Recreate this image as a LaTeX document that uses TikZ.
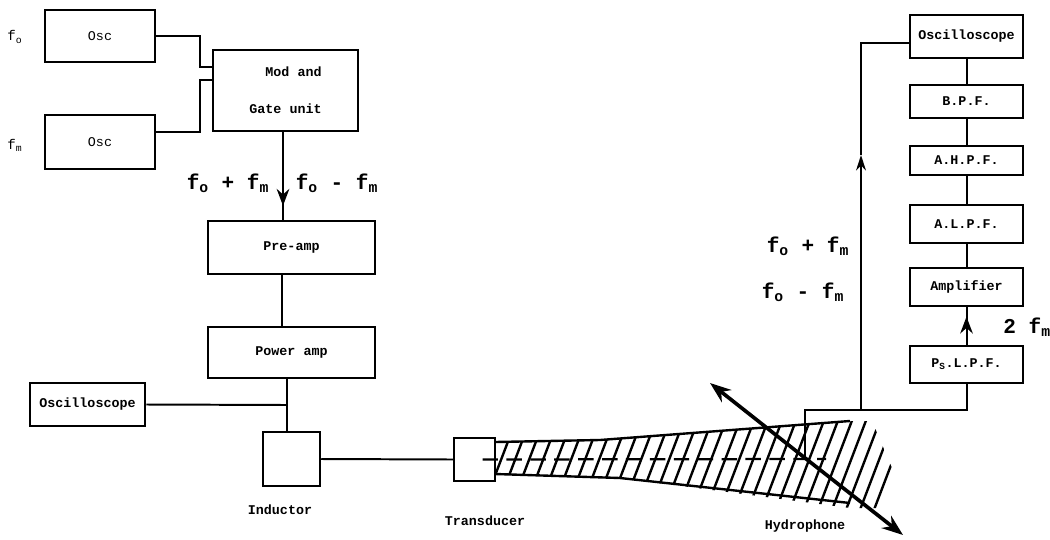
\documentclass[tikz,border=0pt]{standalone}
\usepackage{fontspec}
\setmonofont{Liberation Mono}
\usetikzlibrary{arrows.meta}
\usetikzlibrary{decorations.markings}

\begin{document}
\begin{tikzpicture}[
        x = 0.025cm,
        y = -0.025cm,
        blk/.style = {
            draw,
            line width = 1.9pt,
            font = \ttfamily\bfseries\fontsize{9.5}{11}\selectfont,
            inner sep = 0pt
        },
        wire/.style = {line width = 1.4pt},
        hatch/.style = {line width = 1.7pt},
        lbl/.style = {font = \ttfamily\bfseries\fontsize{9.5}{11}\selectfont},
        freq/.style = {font = \ttfamily\bfseries\fontsize{15}{17}\selectfont},
        midtip/.style = {
            postaction = {decorate},
            decoration = {markings,
                mark = at position #1 with {\arrow{Stealth[length=12pt, width=9pt, inset=4pt]}}}
        }
    ]
    \useasboundingbox (0,0) rectangle (1050,539);
    % oscillators and modulator
    \node[blk, minimum width=2.75cm, minimum height=1.3cm,
          font=\ttfamily\fontsize{9.5}{11}\selectfont] (oscA) at (100,36) {Osc};
    \node[blk, minimum width=2.75cm, minimum height=1.35cm,
          font=\ttfamily\fontsize{9.5}{11}\selectfont] (oscB) at (100,142) {Osc};
    \node[font=\ttfamily\fontsize{10}{11}\selectfont] (fo) at (15,37) {f\textsubscript{o}};
    \node[font=\ttfamily\fontsize{10}{11}\selectfont] (fm) at (15,145) {f\textsubscript{m}};
    \node[blk, minimum width=3.62cm, minimum height=2.02cm, align=right] (modgate) at (285.5,90.5)
        {Mod and\\[15pt]Gate unit};
    % transmit chain
    \node[blk, minimum width=4.17cm, minimum height=1.32cm] (preamp) at (291.5,247.5) {Pre-amp};
    \node[blk, minimum width=4.17cm, minimum height=1.27cm] (poweramp) at (291.5,352.5) {Power amp};
    \node[blk, minimum width=2.87cm, minimum height=1.07cm] (scopeL) at (87.5,404.5) {Oscilloscope};
    \node[blk, minimum width=1.42cm, minimum height=1.35cm] (inductor) at (291.5,459) {};
    \node[blk, minimum width=1.02cm, minimum height=1.07cm] (transducer) at (474.5,459.5) {};
    \node[lbl] (indlbl) at (280,510) {Inductor};
    \node[lbl] (trlbl) at (485,521) {Transducer};
    \node[lbl] (hydlbl) at (805,526) {Hydrophone};
    % receive chain
    \node[blk, minimum width=2.82cm, minimum height=1.07cm] (scopeR) at (966.5,36.5) {Oscilloscope};
    \node[blk, minimum width=2.82cm, minimum height=0.82cm] (bpf) at (966.5,101.5) {B.P.F.};
    \node[blk, minimum width=2.82cm, minimum height=0.72cm] (ahpf) at (966.5,160.5) {A.H.P.F.};
    \node[blk, minimum width=2.82cm, minimum height=0.95cm] (alpf) at (966.5,224) {A.L.P.F.};
    \node[blk, minimum width=2.82cm, minimum height=0.95cm] (amp) at (966.5,287) {Amplifier};
    \node[blk, minimum width=2.82cm, minimum height=0.92cm] (pslpf) at (966.5,364.5) {P\textsubscript{S}.L.P.F.};
    % frequency labels
    \node[freq] (sumL) at (228,183) {f\textsubscript{o} + f\textsubscript{m}};
    \node[freq] (difL) at (337,183) {f\textsubscript{o} - f\textsubscript{m}};
    \node[freq] (sumR) at (808,246) {f\textsubscript{o} + f\textsubscript{m}};
    \node[freq] (difR) at (803,292) {f\textsubscript{o} - f\textsubscript{m}};
    \node[freq, anchor=west, inner sep=0pt] (twofm) at (1003,327) {2 f\textsubscript{m}};
    % junction points
    \coordinate (jn) at (287,405);
    \coordinate (hyd) at (805,458);
    \coordinate (hydtop) at (805,410);
    \coordinate (tap) at (861,410);
    \coordinate (uparr) at (861,155);
    %
    \draw[wire] (oscA.east) -| (200,67) -- (modgate.west |- 0,67);
    \draw[wire] ([yshift=7pt]oscB.east) -| (200,80) -- (modgate.west |- 0,80);
    \draw[wire, midtip=0.84] (modgate.south -| 283,0) -- (preamp.north -| 283,0);
    \draw[wire] (preamp.south -| 282,0) -- (poweramp.north -| 282,0);
    \draw[wire] (poweramp.south -| jn) -- (inductor.north -| jn);
    \draw[wire] (scopeL.east) -- (jn);
    \draw[wire] (inductor.east) -- (transducer.west);
    %
    \draw[wire] (hyd) -- (hydtop) -| (pslpf.south);
    \draw[wire, -{Stealth[length=11pt, width=7pt]}] (tap) -- (uparr);
    \draw[wire] (uparr) |- ([yshift=-4.5pt]scopeR.west);
    \draw[wire, midtip=0.75] (pslpf.north) -- (amp.south);
    \draw[wire] (amp.north) -- (alpf.south);
    \draw[wire] (alpf.north) -- (ahpf.south);
    \draw[wire] (ahpf.north) -- (bpf.south);
    \draw[wire] (bpf.north) -- (scopeR.south);
    % sound beam
    \draw[hatch] (495,442) -- (600,440) -- (850,421);
    \draw[hatch] (495,474) -- (620,478) -- (850,503);
    \begin{scope}
        \clip (495,442) -- (600,440) -- (850,421) -- (872,421) -- (895,475)
              -- (886,508) -- (850,508) -- (620,478) -- (495,474) -- cycle;
        \foreach \k in {0,...,30}
            \draw[hatch] (480+14*\k,515) -- ++(40,-105);
    \end{scope}
    \draw[wire, line width=1.6pt, dash pattern=on 11pt off 6pt] (transducer.center) ++(8,0) -- (826,459);
    \draw[line width=2.6pt, {Stealth[length=15pt, width=11pt]}-{Stealth[length=15pt, width=11pt]}]
        (710,383) -- (hyd) -- (903,535);
\end{tikzpicture}
\end{document}
